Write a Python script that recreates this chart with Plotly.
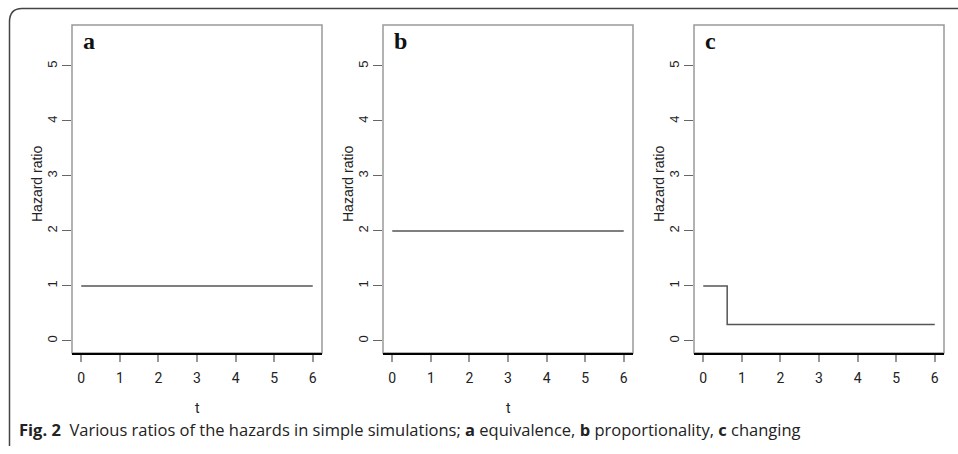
import plotly.graph_objects as go

W, H = 958, 454

# Hazard ratio over time for the three simulation scenarios
t_equiv = [0, 6]
hr_equiv = [1, 1]
t_prop = [0, 6]
hr_prop = [2, 2]
t_change = [0, 0.62, 6]
hr_change = [1, 0.3, 0.3]

x_ticks = [0, 1, 2, 3, 4, 5, 6]
y_ticks = [0, 1, 2, 3, 4, 5]
panel_labels = ["a", "b", "c"]
x_titles = ["t", "t", ""]
y_title = "Hazard ratio"
caption = "<b>Fig. 2</b>  Various ratios of the hazards in simple simulations; <b>a</b> equivalence, <b>b</b> proportionality, <b>c</b> changing"

# panel boxes in pixels (left, right); vertical extent shared
boxes = [(72, 322), (383, 633), (694, 944)]
box_top, box_bottom = 25, 353

def px(x):
    return x / W

def py(y):
    return 1 - y / H

fig = go.Figure()
series = [(t_equiv, hr_equiv), (t_prop, hr_prop), (t_change, hr_change)]
tick_font = dict(family="Roboto, Liberation Sans, sans-serif", size=14, color="#222")
ytick_font = dict(family="Liberation Sans, Arial, sans-serif", size=13, color="#222")

for i, ((xs, ys), (l, r)) in enumerate(zip(series, boxes)):
    n = "" if i == 0 else str(i + 1)
    fig.add_trace(go.Scatter(x=xs, y=ys, mode="lines", line=dict(color="#555", width=1.5, shape="hv"),
                             xaxis="x" + n, yaxis="y" + n, showlegend=False, hoverinfo="skip"))
    fig.update_layout(**{
        "xaxis" + n: dict(domain=[px(l), px(r)], range=[-0.24, 6.24], anchor="y" + n,
                          tickvals=x_ticks, ticks="outside", ticklen=7, tickcolor="#999", tickwidth=1.5,
                          showline=True, linecolor="black", linewidth=1.5, showgrid=False, zeroline=False,
                          tickfont=tick_font, ticklabelstandoff=4),
        "yaxis" + n: dict(domain=[py(box_bottom), py(box_top)], range=[-0.22, 5.745], anchor="x" + n,
                          tickvals=y_ticks, ticks="outside", ticklen=9, tickcolor="#666", tickwidth=1,
                          showline=False, showgrid=False, zeroline=False, tickangle=-90,
                          tickfont=ytick_font, ticklabelstandoff=0),
    })
    # plot frame
    fig.add_shape(type="rect", xref="paper", yref="paper", x0=px(l), x1=px(r), y0=py(box_bottom), y1=py(box_top),
                  line=dict(color="#999", width=1.5), layer="below")
    fig.add_annotation(x=px(l + 9), y=py(41), xref="paper", yref="paper", text="<b>%s</b>" % panel_labels[i],
                       showarrow=False, xanchor="left", yanchor="middle",
                       font=dict(family="Liberation Serif, Times New Roman, serif", size=24, color="#111"))
    fig.add_annotation(x=px(l - 35), y=py(184), xref="paper", yref="paper", text=y_title,
                       textangle=-90, showarrow=False, xanchor="center", yanchor="middle",
                       font=dict(family="Liberation Sans, Arial, sans-serif", size=14, color="#222"))
    if x_titles[i]:
        fig.add_annotation(x=px((l + r) / 2), y=py(408), xref="paper", yref="paper", text=x_titles[i],
                           showarrow=False, xanchor="center", yanchor="middle",
                           font=dict(family="Roboto, Liberation Sans, sans-serif", size=14, color="#222"))

# caption
fig.add_annotation(x=px(17), y=py(429), xref="paper", yref="paper", text=caption, showarrow=False,
                   xanchor="left", yanchor="middle",
                   font=dict(family="Open Sans, Noto Sans, sans-serif", size=16.5, color="#222"))

# rounded figure border (top and left edges)
path = "M %f %f L %f %f Q %f %f %f %f L %f %f" % (
    px(958), py(8.5), px(22), py(8.5), px(9.5), py(8.5), px(9.5), py(22), px(9.5), py(446))
fig.add_shape(type="path", xref="paper", yref="paper", path=path, line=dict(color="#444", width=1.5))

fig.update_layout(width=W, height=H, margin=dict(l=0, r=0, t=0, b=0),
                  paper_bgcolor="white", plot_bgcolor="white")
fig.write_html("out.html")
